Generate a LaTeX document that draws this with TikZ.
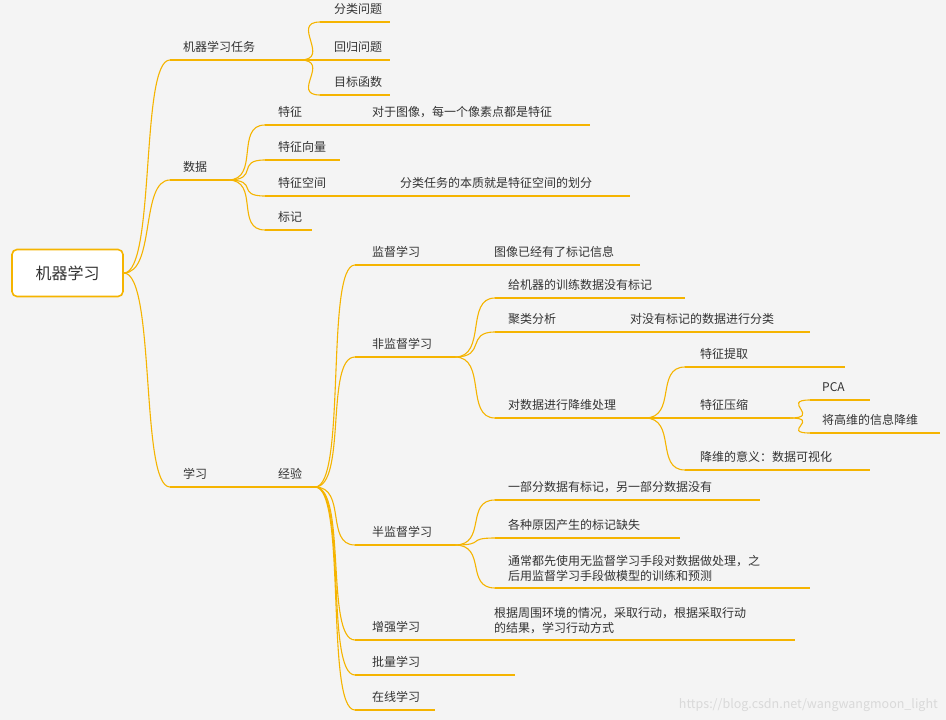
\documentclass[tikz,border=0pt]{standalone}
\usepackage{fontspec}
\setmainfont{Noto Sans CJK SC}
\definecolor{mmorange}{HTML}{F5B400}
\definecolor{mmtext}{HTML}{333333}
\definecolor{mmbg}{HTML}{F4F4F4}
\tikzset{
  ul/.style={mmorange, line width=1.1pt},
  br/.style={mmorange, line width=1.1pt},
  lbl/.style={anchor=base west, inner sep=0pt, text=mmtext, font=\fontsize{12}{15}\selectfont},
  rootbox/.style={draw=mmorange, line width=1.6pt, fill=white, rounded corners=5pt,
    minimum width=111pt, minimum height=47pt, text=mmtext, font=\fontsize{16}{18}\selectfont}
}
% name, x1, x2, y, text x, text
\newcommand\mmleaf[6]{%
  \coordinate (#1-s) at (#2,#4);
  \coordinate (#1-e) at (#3,#4);
  \draw[ul] (#1-s) -- (#1-e);
  \node[lbl, yshift=9pt] (#1) at (#5,#4) {#6};}
\newcommand\mmlink[2]{%
  \draw[br] (#1-e) .. controls +(32,0) and +(-30,0) .. (#2-s);}
\begin{document}
\begin{tikzpicture}[x=1pt, y=-1pt]
\fill[mmbg] (0,0) rectangle (946,720);
\useasboundingbox (0,0) rectangle (946,720);

\node[rootbox] (root) at (67.5,273) {机器学习};
\coordinate (root-e) at (root.east);

% first level
\mmleaf{task}{170}{300}{60}{183}{机器学习任务}
\mmleaf{data}{170}{228}{180}{183}{数据}
\mmleaf{learn}{170}{265}{487}{183}{学习}
\mmlink{root}{task}
\mmlink{root}{data}
\mmlink{root}{learn}

% tasks
\mmleaf{cls}{320}{390}{22}{334}{分类问题}
\mmleaf{reg}{320}{390}{60}{334}{回归问题}
\mmleaf{obj}{320}{390}{95}{334}{目标函数}
\mmlink{task}{cls}
\mmlink{task}{reg}
\mmlink{task}{obj}

% data
\mmleaf{feat}{265}{340}{125}{278}{特征}
\mmleaf{featnote}{340}{590}{125}{372}{对于图像，每一个像素点都是特征}
\mmleaf{fvec}{265}{340}{160}{278}{特征向量}
\mmleaf{fspace}{265}{380}{196}{278}{特征空间}
\mmleaf{fspacenote}{380}{630}{196}{400}{分类任务的本质就是特征空间的划分}
\mmleaf{label}{265}{312}{230}{278}{标记}
\mmlink{data}{feat}
\mmlink{data}{fvec}
\mmlink{data}{fspace}
\mmlink{data}{label}

% learning
\mmleaf{exp}{265}{315}{487}{278}{经验}
\mmleaf{sup}{355}{455}{265}{372}{监督学习}
\mmleaf{supnote}{455}{640}{265}{494}{图像已经有了标记信息}
\mmleaf{unsup}{355}{455}{357}{372}{非监督学习}
\mmleaf{semi}{355}{455}{545}{372}{半监督学习}
\mmleaf{rl}{355}{480}{640}{372}{增强学习}
\mmleaf{batch}{355}{515}{675}{372}{批量学习}
\mmleaf{online}{355}{435}{710}{372}{在线学习}
\mmlink{exp}{sup}
\mmlink{exp}{unsup}
\mmlink{exp}{semi}
\mmlink{exp}{rl}
\mmlink{exp}{batch}
\mmlink{exp}{online}

% unsupervised
\mmleaf{nolabel}{495}{685}{298}{508}{给机器的训练数据没有标记}
\mmleaf{clus}{495}{600}{332}{508}{聚类分析}
\mmleaf{clusnote}{600}{810}{332}{630}{对没有标记的数据进行分类}
\mmleaf{dimred}{495}{645}{418}{508}{对数据进行降维处理}
\mmlink{unsup}{nolabel}
\mmlink{unsup}{clus}
\mmlink{unsup}{dimred}
\mmleaf{fext}{685}{845}{367}{700}{特征提取}
\mmleaf{fcomp}{685}{790}{418}{700}{特征压缩}
\mmleaf{dimmean}{685}{870}{470}{700}{降维的意义：数据可视化}
\mmlink{dimred}{fext}
\mmlink{dimred}{fcomp}
\mmlink{dimred}{dimmean}
\mmleaf{pca}{810}{870}{400}{822}{PCA}
\mmleaf{hd}{810}{940}{433}{822}{将高维的信息降维}
\mmlink{fcomp}{pca}
\mmlink{fcomp}{hd}

% semi-supervised
\mmleaf{part}{495}{760}{500}{508}{一部分数据有标记，另一部分数据没有}
\mmleaf{miss}{495}{680}{538}{508}{各种原因产生的标记缺失}
\coordinate (usual-s) at (495,588);
\coordinate (usual-e) at (810,588);
\draw[ul] (usual-s) -- (usual-e);
\node[lbl, anchor=south west, align=left, yshift=6pt] (usual) at (usual-s -| 508,0)
  {通常都先使用无监督学习手段对数据做处理，之\\后用监督学习手段做模型的训练和预测};
\mmlink{semi}{part}
\mmlink{semi}{miss}
\mmlink{semi}{usual}

% reinforcement
\coordinate (rlnote-s) at (480,640);
\coordinate (rlnote-e) at (795,640);
\draw[ul] (rlnote-s) -- (rlnote-e);
\node[lbl, anchor=south west, align=left, yshift=6pt] (rlnote) at (rlnote-s -| 494,0)
  {根据周围环境的情况，采取行动，根据采取行动\\的结果，学习行动方式};

\node[anchor=base east, inner sep=0pt, text=white!70!gray, font=\fontsize{12.5}{15}\selectfont]
  (mark) at (938,708) {https://blog.csdn.net/wangwangmoon\_light};
\end{tikzpicture}
\end{document}
